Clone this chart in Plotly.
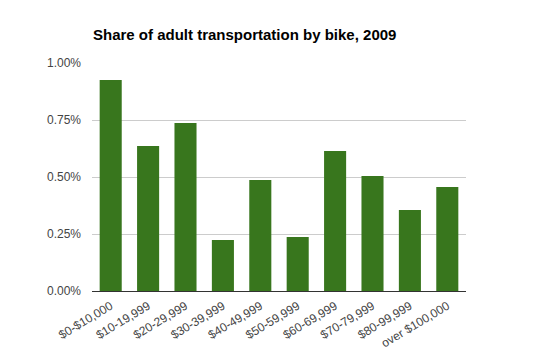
import plotly.graph_objects as go

categories = ["$0-$10,000", "$10-19,999", "$20-29,999", "$30-39,999", "$40-49,999",
              "$50-59,999", "$60-69,999", "$70-79,999", "$80-99,999", "over $100,000"]
share = [0.00925, 0.00636, 0.00737, 0.00224, 0.00487,
         0.00237, 0.00614, 0.00504, 0.00355, 0.00456]
y_ticks = [0, 0.0025, 0.005, 0.0075, 0.01]

fig = go.Figure(go.Bar(x=categories, y=share, marker_color="#38761d", marker_line_width=0))

# page body has an 8px default margin; figure coordinates compensate for it
fig.update_layout(
    width=541, height=361,
    margin=dict(l=84, r=83, t=55, b=78),
    paper_bgcolor="white", plot_bgcolor="white",
    font=dict(family="Liberation Sans, Arial, sans-serif", size=12, color="#444"),
    title=dict(text="<b>Share of adult transportation by bike, 2009</b>",
               x=85/541, xanchor="left", y=1-27/361, yanchor="middle",
               font=dict(size=15, color="black")),
    bargap=0.41,
    showlegend=False,
)
fig.update_xaxes(tickangle=-31, showgrid=False, showline=False, ticks="",
                 automargin=False, ticklabelstandoff=5,
                 tickfont=dict(size=12, color="#444"))
fig.update_yaxes(range=[0, 0.01], tickvals=y_ticks, tickformat=".2%",
                 showgrid=True, gridcolor="#cccccc", gridwidth=1,
                 zeroline=True, zerolinecolor="#333333", zerolinewidth=1,
                 automargin=False,
                 ticks="", ticklabelstandoff=10, tickfont=dict(size=12, color="#444"))

fig.write_html("out.html")
